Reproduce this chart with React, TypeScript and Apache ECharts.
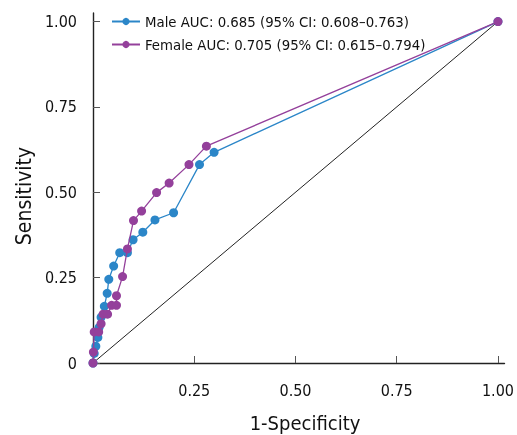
import React, { useEffect, useRef } from "react";
import * as echarts from "echarts";

const maleFpr = [0, 0.003, 0.007, 0.012, 0.015, 0.02, 0.028, 0.035, 0.039, 0.051, 0.066, 0.085, 0.099, 0.123, 0.153, 0.199, 0.263, 0.299, 1];
const maleTpr = [0, 0.028, 0.049, 0.075, 0.104, 0.134, 0.166, 0.204, 0.245, 0.284, 0.323, 0.323, 0.361, 0.383, 0.419, 0.44, 0.581, 0.617, 1];
const femaleFpr = [0, 0.001, 0.003, 0.014, 0.02, 0.025, 0.036, 0.046, 0.058, 0.058, 0.073, 0.085, 0.1, 0.12, 0.157, 0.188, 0.237, 0.28, 1];
const femaleTpr = [0, 0.032, 0.091, 0.091, 0.115, 0.143, 0.143, 0.169, 0.169, 0.197, 0.253, 0.334, 0.417, 0.445, 0.499, 0.527, 0.581, 0.635, 1];
const refLine = [0, 1];
const tickValues = [0, 0.25, 0.5, 0.75, 1];
const xLabelValues = [0.25, 0.5, 0.75, 1];
const seriesNames = ["Male AUC: 0.685 (95% CI: 0.608\u20130.763)", "Female AUC: 0.705 (95% CI: 0.615\u20130.794)"];

const FONT = "'DejaVu Sans Condensed', 'Liberation Sans Narrow', Roboto, sans-serif";
const BLUE = "#2b86c8";
const PURPLE = "#94409b";
const INK = "#111";

export default function App() {
  const ref = useRef<HTMLDivElement>(null);
  useEffect(() => {
    if (!ref.current) return;
    const chart = echarts.init(ref.current, undefined, { renderer: "svg" });
    const fmt = (v: number) => (v === 0 ? "0" : v.toFixed(2));
    chart.setOption({
      animation: false,
      textStyle: { fontFamily: FONT },
      grid: { left: 93, right: 9, top: 13, bottom: 72 },
      legend: {
        orient: "vertical",
        left: 106,
        top: 9,
        itemWidth: 28,
        itemHeight: 9,
        itemGap: 8,
        textStyle: { fontFamily: FONT, fontSize: 14.8, color: INK },
        data: seriesNames,
      },
      xAxis: {
        type: "value",
        min: 0,
        max: 1.016,
        splitLine: { show: false },
        axisLine: { lineStyle: { color: "#222", width: 1.4 } },
        axisTick: { inside: true, length: 7, customValues: tickValues, lineStyle: { color: "#555" } },
        axisLabel: { customValues: xLabelValues, formatter: fmt, margin: 19, fontSize: 16, color: INK, fontFamily: FONT },
      },
      yAxis: {
        type: "value",
        min: 0,
        max: 1.025,
        splitLine: { show: false },
        axisLine: { show: true, lineStyle: { color: "#222", width: 1.4 } },
        axisTick: { show: true, inside: true, length: 7, customValues: tickValues, lineStyle: { color: "#555" } },
        axisLabel: { customValues: tickValues, formatter: fmt, margin: 16, fontSize: 16, color: INK, fontFamily: FONT },
      },
      graphic: [
        {
          type: "text",
          x: 24,
          y: 196,
          rotation: Math.PI / 2,
          style: { text: "Sensitivity", fontSize: 21, fontFamily: FONT, fill: INK, align: "center", verticalAlign: "middle" },
        },
        {
          type: "text",
          x: 305,
          y: 423,
          style: { text: "1-Specificity", fontSize: 20, fontFamily: FONT, fill: INK, align: "center", verticalAlign: "middle" },
        },
      ],
      series: [
        {
          type: "line",
          data: refLine.map((v) => [v, v]),
          symbol: "none",
          lineStyle: { color: "#222", width: 1 },
          silent: true,
          z: 1,
        },
        {
          name: seriesNames[0],
          type: "line",
          data: maleFpr.map((x, i) => [x, maleTpr[i]]),
          symbol: "circle",
          symbolSize: 9,
          color: BLUE,
          lineStyle: { color: BLUE, width: 1.3 },
          itemStyle: { color: BLUE },
          z: 2,
        },
        {
          name: seriesNames[1],
          type: "line",
          data: femaleFpr.map((x, i) => [x, femaleTpr[i]]),
          symbol: "circle",
          symbolSize: 9,
          color: PURPLE,
          lineStyle: { color: PURPLE, width: 1.3 },
          itemStyle: { color: PURPLE },
          z: 3,
        },
      ],
    });
    return () => chart.dispose();
  }, []);
  return <div ref={ref} style={{ position: "fixed", left: 0, top: 0, width: 517, height: 435 }} />;
}
